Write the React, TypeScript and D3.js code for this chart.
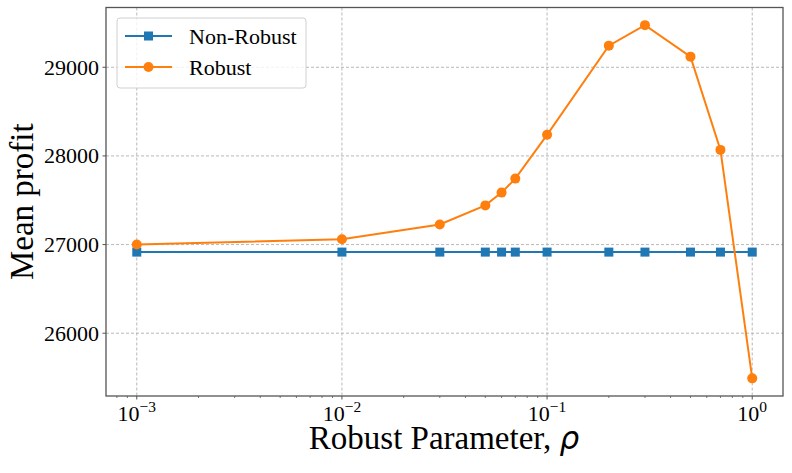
import React from "react";
import * as d3 from "d3";

const rhoValues = [0.001, 0.01, 0.03, 0.05, 0.06, 0.07, 0.1, 0.2, 0.3, 0.5, 0.7, 1.0];
const robustProfit = [27000, 27060, 27226, 27442, 27586, 27744, 28238, 29244, 29475, 29120, 28068, 25491];
const nonRobustProfit = [26915, 26915, 26915, 26915, 26915, 26915, 26915, 26915, 26915, 26915, 26915, 26915];
const yTicks = [26000, 27000, 28000, 29000];
const xExponents = [-3, -2, -1, 0];

const W = 792;
const H = 473;
const left = 106;
const right = 783;
const top = 7.5;
const bottom = 396;

export default function App() {
  const lx = rhoValues.map((v) => Math.log10(v));
  const lmin = d3.min(lx)!;
  const lmax = d3.max(lx)!;
  const lm = (lmax - lmin) * 0.05;
  const x = d3
    .scaleLog()
    .domain([Math.pow(10, lmin - lm), Math.pow(10, lmax + lm)])
    .range([left, right]);
  const allY = [...robustProfit, ...nonRobustProfit];
  const ymin = d3.min(allY)!;
  const ymax = d3.max(allY)!;
  const ym = (ymax - ymin) * 0.05;
  const y = d3.scaleLinear().domain([ymin - ym, ymax + ym]).range([bottom, top]);

  const line = d3
    .line<[number, number]>()
    .x((d) => x(d[0]))
    .y((d) => y(d[1]));
  const robustPts: [number, number][] = rhoValues.map((r, i) => [r, robustProfit[i]]);
  const nonPts: [number, number][] = rhoValues.map((r, i) => [r, nonRobustProfit[i]]);

  const [d0, d1] = x.domain();
  const minorTicks: number[] = [];
  for (let e = -5; e <= 1; e++) {
    for (let k = 2; k <= 9; k++) {
      const v = k * Math.pow(10, e);
      if (v >= d0 && v <= d1) minorTicks.push(v);
    }
  }

  const blue = "#1f77b4";
  const orange = "#ff7f0e";
  const spine = "#555";
  const gridColor = "#b0b0b0";
  const serif = "'Liberation Serif', 'Times New Roman', serif";

  return (
    <div style={{ position: "absolute", left: 0, top: 0 }}>
      <svg width={W} height={H} style={{ display: "block", background: "#fff" }}>
        <rect x={0} y={0} width={W} height={H} fill="#fff" />
        {/* grid */}
        <g>
          {xExponents.map((e) => (
            <line
              key={"gx" + e}
              x1={x(Math.pow(10, e))}
              x2={x(Math.pow(10, e))}
              y1={top}
              y2={bottom}
              stroke={gridColor}
              strokeWidth={0.9}
              strokeDasharray="3,2"
            />
          ))}
          {yTicks.map((t) => (
            <line
              key={"gy" + t}
              x1={left}
              x2={right}
              y1={y(t)}
              y2={y(t)}
              stroke={gridColor}
              strokeWidth={0.9}
              strokeDasharray="3,2"
            />
          ))}
        </g>
        {/* non-robust */}
        <path d={line(nonPts)!} fill="none" stroke={blue} strokeWidth={2} />
        {nonPts.map((p, i) => (
          <rect
            key={"s" + i}
            x={x(p[0]) - 4.5}
            y={y(p[1]) - 4.5}
            width={9}
            height={9}
            fill={blue}
          />
        ))}
        {/* robust */}
        <path d={line(robustPts)!} fill="none" stroke={orange} strokeWidth={2} />
        {robustPts.map((p, i) => (
          <circle key={"c" + i} cx={x(p[0])} cy={y(p[1])} r={5} fill={orange} />
        ))}
        {/* spines */}
        <rect
          x={left}
          y={top}
          width={right - left}
          height={bottom - top}
          fill="none"
          stroke={spine}
          strokeWidth={1.3}
        />
        {/* y ticks */}
        {yTicks.map((t) => (
          <g key={"yt" + t}>
            <line x1={left - 3.5} x2={left} y1={y(t)} y2={y(t)} stroke={spine} strokeWidth={1} />
            <text
              x={left - 7}
              y={y(t)}
              textAnchor="end"
              dominantBaseline="central"
              fontFamily={serif}
              fontSize={22}
              fill="#000"
            >
              {t}
            </text>
          </g>
        ))}
        {/* x ticks */}
        {xExponents.map((e) => {
          const px = x(Math.pow(10, e));
          return (
            <g key={"xt" + e}>
              <line x1={px} x2={px} y1={bottom} y2={bottom + 3.5} stroke={spine} strokeWidth={1} />
              <text x={px} y={421} textAnchor="middle" fontFamily={serif} fontSize={22} fill="#000">
                <tspan>10</tspan>
                <tspan dy={-9} fontSize={15.5}>
                  {e === 0 ? "0" : "\u2212" + Math.abs(e)}
                </tspan>
              </text>
            </g>
          );
        })}
        {minorTicks.map((v, i) => (
          <line
            key={"mt" + i}
            x1={x(v)}
            x2={x(v)}
            y1={bottom}
            y2={bottom + 2}
            stroke={spine}
            strokeWidth={0.8}
          />
        ))}
        {/* axis labels */}
        <text x={444} y={449} textAnchor="middle" fontFamily={serif} fontSize={33} fill="#000">
          Robust Parameter,{" "}
          <tspan fontFamily="'DejaVu Sans', sans-serif" fontStyle="italic" fontSize={31}>
            ρ
          </tspan>
        </text>
        <text
          transform={`translate(33,${(top + bottom) / 2}) rotate(-90)`}
          textAnchor="middle"
          fontFamily={serif}
          fontSize={33}
          fill="#000"
        >
          Mean profit
        </text>
        {/* legend */}
        <g>
          <rect
            x={117}
            y={18}
            width={189}
            height={70}
            rx={3}
            fill="#fff"
            fillOpacity={0.8}
            stroke="#d0d0d0"
            strokeWidth={1}
          />
          <line x1={125} x2={172} y1={36} y2={36} stroke={blue} strokeWidth={2} />
          <rect x={148.5 - 4.5} y={36 - 4.5} width={9} height={9} fill={blue} />
          <text x={189} y={36} dominantBaseline="central" fontFamily={serif} fontSize={22} fill="#000">
            Non-Robust
          </text>
          <line x1={125} x2={172} y1={67} y2={67} stroke={orange} strokeWidth={2} />
          <circle cx={148.5} cy={67} r={5} fill={orange} />
          <text x={189} y={67} dominantBaseline="central" fontFamily={serif} fontSize={22} fill="#000">
            Robust
          </text>
        </g>
      </svg>
    </div>
  );
}
